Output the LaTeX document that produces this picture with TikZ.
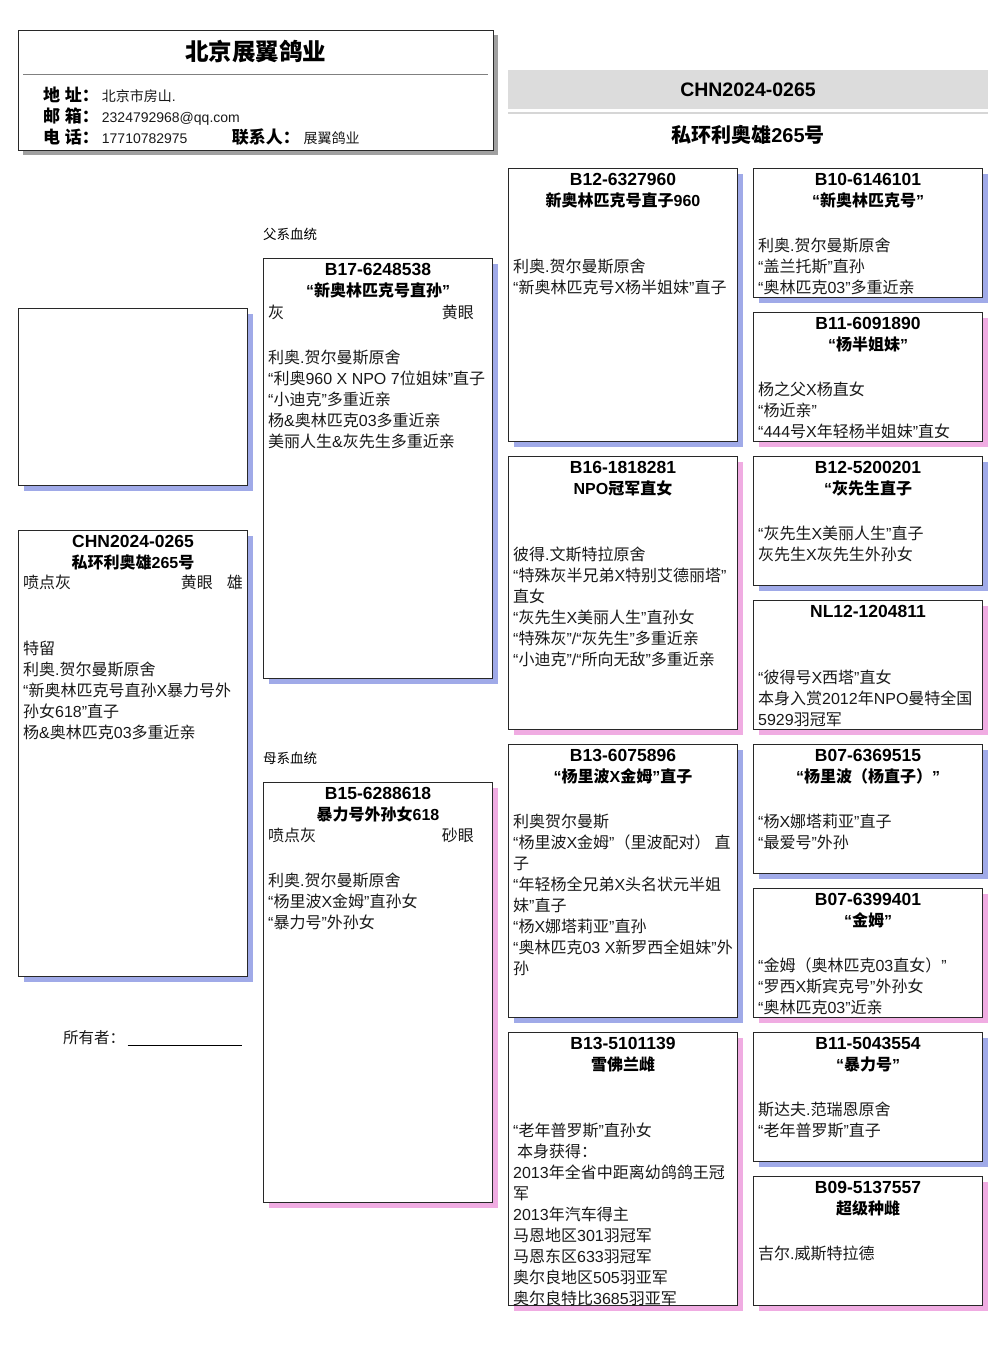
\documentclass[tikz,border=0pt]{standalone}
\usepackage{fontspec}
\setmainfont{Liberation Sans}
\newfontfamily\cjkff{Noto Sans CJK SC}
\usetikzlibrary{shadows}
\XeTeXinterchartokenstate=1
\chardef\cjkcls=11
\newcount\cc
\cc="4E00 \loop\ifnum\cc<"A000 \XeTeXcharclass\cc=\cjkcls \advance\cc by 1 \repeat
\cc="3000 \loop\ifnum\cc<"3040 \XeTeXcharclass\cc=\cjkcls \advance\cc by 1 \repeat
\cc="FF00 \loop\ifnum\cc<"FFF0 \XeTeXcharclass\cc=\cjkcls \advance\cc by 1 \repeat
\XeTeXcharclass"201C=0
\XeTeXcharclass"201D=0
\XeTeXinterchartoks 0 \cjkcls = {\cjkff}
\XeTeXinterchartoks 4095 \cjkcls = {\cjkff}
\XeTeXinterchartoks \cjkcls 0 = {\rmfamily}
\XeTeXinterchartoks \cjkcls 4095 = {\rmfamily}
\definecolor{shblue}{RGB}{160,170,232}
\definecolor{shpink}{RGB}{240,172,226}
\definecolor{shgray}{RGB}{160,160,160}
\definecolor{bannerfill}{RGB}{220,220,220}
\definecolor{bannerline}{RGB}{214,214,214}
\definecolor{boxline}{RGB}{40,40,40}
\definecolor{txt}{RGB}{25,25,25}
\newcommand\pedbox[7]{%
  \node[pbox,#5,minimum height=#4pt] (#1) at (#2,#3) {};
  \node[idst] (#1-id) at ([yshift=-17.5pt]#1.north) {#6};
  \node[ttst] (#1-tt) at ([yshift=-38pt]#1.north) {#7};
}
\newcommand\blines[4]{%
  \foreach \bl [count=\k] in {#4} {
    \node[bodyst] (#1-b\k) at ([xshift=#2pt,yshift={-(#3+21*(\k-1))*1pt}]#1.north west) {\bl};
  }
}
\begin{document}
\begin{tikzpicture}[x=1pt,y=-1pt,
  pbox/.style={draw=boxline,line width=1pt,fill=white,inner sep=0pt,anchor=north west,minimum width=229pt},
  mshadow/.style={drop shadow={shadow xshift=5pt,shadow yshift=-5pt,fill=shblue,opacity=1}},
  fshadow/.style={drop shadow={shadow xshift=5pt,shadow yshift=-5pt,fill=shpink,opacity=1}},
  idst/.style={font=\fontsize{17.5}{21}\selectfont\bfseries,inner sep=0pt,anchor=base},
  ttst/.style={font=\fontsize{16}{21}\selectfont\bfseries,inner sep=0pt,anchor=base},
  bodyst/.style={font=\fontsize{16}{21}\selectfont,inner sep=0pt,anchor=base west,text=txt},
  lblst/.style={font=\fontsize{17}{21}\selectfont\bfseries,inner sep=0pt,anchor=base west},
  valst/.style={font=\fontsize{14}{21}\selectfont,inner sep=0pt,anchor=base west,text=txt},
  secst/.style={font=\fontsize{13.5}{16}\selectfont,inner sep=0pt,anchor=base west,text=black},
  bigst/.style={font=\fontsize{19.5}{24}\selectfont\bfseries,inner sep=0pt,anchor=base}]
\useasboundingbox (0,0) rectangle (1006,1366);
\fill[white] (0,0) rectangle (1006,1366);
% header
\node[draw=boxline,line width=1pt,fill=white,inner sep=0pt,anchor=north west,minimum width=475pt,minimum height=120pt,
  drop shadow={shadow xshift=4pt,shadow yshift=-4pt,fill=shgray,opacity=1}] (hdr) at (18,30) {};
\draw[gray,line width=1pt] ([xshift=5pt,yshift=-44pt]hdr.north west) -- ([xshift=-6pt,yshift=-44pt]hdr.north east);
\node[font=\fontsize{23.5}{26}\selectfont\bfseries,inner sep=0pt,anchor=base] (hdrtitle) at (255.5,60.5) {北京展翼鸽业};
\node[lblst] (lab1) at (43,101) {地 址：};
\node[lblst] (lab2) at (43,122) {邮 箱：};
\node[lblst] (lab3) at (43,143) {电 话：};
\node[valst] (val1) at (101.7,101) {北京市房山.};
\node[valst] (val2) at (101.7,122) {2324792968@qq.com};
\node[valst] (val3) at (101.7,143) {17710782975};
\node[lblst] (lab4) at (231.7,143) {联系人：};
\node[valst] (val4) at (303.3,143) {展翼鸽业};
% banner
\node[fill=bannerfill,inner sep=0pt,anchor=north west,minimum width=480pt,minimum height=39pt] (banner) at (508,70) {};
\draw[bannerline,line width=2pt] ([yshift=-4pt]banner.south west) -- ([yshift=-4pt]banner.south east);
\node[bigst] (ring) at (748,96.5) {CHN2024-0265};
\node[bigst,font=\fontsize{20}{24}\selectfont\bfseries] (pname) at (748,142) {私环利奥雄265号};
% subject column
\node[pbox,mshadow,minimum height=177pt] (photo) at (18,308) {};
\pedbox{subj}{18}{530}{446}{mshadow}{CHN2024-0265}{私环利奥雄265号}
\node[bodyst] (subj-c) at ([xshift=5pt,yshift=-58pt]subj.north west) {喷点灰};
\node[bodyst,anchor=base east] (subj-e) at ([xshift=-35pt,yshift=-58pt]subj.north east) {黄眼};
\node[bodyst,anchor=base east] (subj-s) at ([xshift=-5pt,yshift=-58pt]subj.north east) {雄};
\blines{subj}{5}{124}{特留,利奥.贺尔曼斯原舍,“新奥林匹克号直孙X暴力号外,孙女618”直子,杨\&奥林匹克03多重近亲}
\node[font=\fontsize{15.5}{18}\selectfont,inner sep=0pt,anchor=base west,text=txt] (owner) at (63,1043) {所有者：};
\coordinate (ul1) at (127.7,1045);
\coordinate (ul2) at (242.3,1045);
\draw[black,line width=0.9pt] (ul1) -- (ul2);
% parents
\node[secst] (sirelbl) at (263,239) {父系血统};
\node[secst] (damlbl) at (263,763) {母系血统};
\pedbox{sire}{263}{258}{420}{mshadow}{B17-6248538}{“新奥林匹克号直孙”}
\node[bodyst] (sire-c) at ([xshift=5pt,yshift=-60pt]sire.north west) {灰};
\node[bodyst,anchor=base east] (sire-e) at ([xshift=-19pt,yshift=-60pt]sire.north east) {黄眼};
\blines{sire}{5}{105}{利奥.贺尔曼斯原舍,“利奥960 X NPO 7位姐妹”直子,“小迪克”多重近亲,杨\&奥林匹克03多重近亲,美丽人生\&灰先生多重近亲}
\pedbox{dam}{263}{782}{420}{fshadow}{B15-6288618}{暴力号外孙女618}
\node[bodyst] (dam-c) at ([xshift=5pt,yshift=-59pt]dam.north west) {喷点灰};
\node[bodyst,anchor=base east] (dam-e) at ([xshift=-19pt,yshift=-59pt]dam.north east) {砂眼};
\blines{dam}{5}{104}{利奥.贺尔曼斯原舍,“杨里波X金姆”直孙女,“暴力号”外孙女}
% grandparents
\pedbox{ca}{508}{168}{273}{mshadow}{B12-6327960}{新奥林匹克号直子960}
\blines{ca}{5}{104}{利奥.贺尔曼斯原舍,“新奥林匹克号X杨半姐妹”直子}
\pedbox{cb}{508}{456}{273}{fshadow}{B16-1818281}{NPO冠军直女}
\blines{cb}{5}{104}{彼得.文斯特拉原舍,“特殊灰半兄弟X特别艾德丽塔”,直女,“灰先生X美丽人生”直孙女,“特殊灰”/“灰先生”多重近亲,“小迪克”/“所向无敌”多重近亲}
\pedbox{cc}{508}{744}{273}{mshadow}{B13-6075896}{“杨里波X金姆”直子}
\blines{cc}{5}{83}{利奥贺尔曼斯,“杨里波X金姆”（里波配对）\hspace{4pt}直,子,“年轻杨全兄弟X头名状元半姐,妹”直子,“杨X娜塔莉亚”直孙,“奥林匹克03 X新罗西全姐妹”外,孙}
\pedbox{cd}{508}{1032}{273}{fshadow}{B13-5101139}{雪佛兰雌}
\blines{cd}{5}{104}{“老年普罗斯”直孙女,\hspace{4pt}本身获得：,2013年全省中距离幼鸽鸽王冠,军,2013年汽车得主,马恩地区301羽冠军,马恩东区633羽冠军,奥尔良地区505羽亚军,奥尔良特比3685羽亚军}
% great-grandparents
\pedbox{da}{753}{168}{129}{mshadow}{B10-6146101}{“新奥林匹克号”}
\blines{da}{5}{83}{利奥.贺尔曼斯原舍,“盖兰托斯”直孙,“奥林匹克03”多重近亲}
\pedbox{db}{753}{312}{129}{fshadow}{B11-6091890}{“杨半姐妹”}
\blines{db}{5}{83}{杨之父X杨直女,“杨近亲”,“444号X年轻杨半姐妹”直女}
\pedbox{dc}{753}{456}{129}{mshadow}{B12-5200201}{“灰先生直子}
\blines{dc}{5}{83}{“灰先生X美丽人生”直子,灰先生X灰先生外孙女}
\node[pbox,fshadow,minimum height=129pt] (dd) at (753,600) {};
\node[idst] (dd-id) at ([yshift=-17.5pt]dd.north) {NL12-1204811};
\blines{dd}{5}{83}{“彼得号X西塔”直女,本身入赏2012年NPO曼特全国,5929羽冠军}
\pedbox{de}{753}{744}{129}{mshadow}{B07-6369515}{“杨里波（杨直子）”}
\blines{de}{5}{83}{“杨X娜塔莉亚”直子,“最爱号”外孙}
\pedbox{df}{753}{888}{129}{fshadow}{B07-6399401}{“金姆”}
\blines{df}{5}{83}{“金姆（奥林匹克03直女）”,“罗西X斯宾克号”外孙女,“奥林匹克03”近亲}
\pedbox{dg}{753}{1032}{129}{mshadow}{B11-5043554}{“暴力号”}
\blines{dg}{5}{83}{斯达夫.范瑞恩原舍,“老年普罗斯”直子}
\pedbox{dh}{753}{1176}{129}{fshadow}{B09-5137557}{超级种雌}
\blines{dh}{5}{83}{吉尔.威斯特拉德}
\end{tikzpicture}
\end{document}
